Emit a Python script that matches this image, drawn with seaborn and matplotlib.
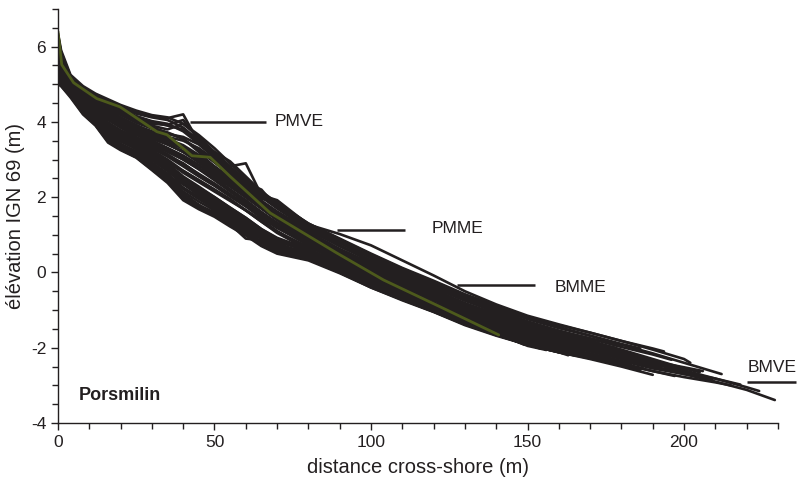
import matplotlib
matplotlib.use("Agg")
import matplotlib.pyplot as plt
import pandas as pd
import seaborn as sns

# cross-shore distances (m) shared by the surveyed profiles
GRID = [0, 1, 4, 8, 12, 16, 20, 25, 30, 35, 40, 45, 50, 55, 60, 65, 70,
        80, 90, 100, 110, 120, 130, 140, 150, 160, 170, 180, 190, 200, 210, 220]

# elevations (m IGN 69) read along GRID, one list per survey
p01 = [6.3, 5.85, 5.2, 4.9, 4.72, 4.55, 4.42, 4.25, 4.15, 4.1, 4.2, 3.45, 3.2, 2.95, 2.55, 2.15,
       1.85, 1.3, 0.9, 0.5, 0.12, -0.22, -0.58, -0.88, -1.18, -1.4, -1.6, -1.82, -2.02]
p02 = [6.1, 5.7, 5.15, 4.8, 4.6, 4.4, 4.25, 4.05, 3.9, 3.8, 3.95, 3.6, 3.2, 2.82, 2.9, 2.05,
       1.92, 1.27, 1.02, 0.72, 0.32, -0.08, -0.5, -0.85, -1.15, -1.38, -1.6, -1.82, -2.05, -2.3]
p03 = [6.2, 5.75, 5.18, 4.85, 4.65, 4.5, 4.35, 4.15, 4.0, 3.9, 3.8, 3.45, 3.1, 2.75, 2.4, 2.05,
       1.75, 1.2, 0.78, 0.38, 0.0, -0.38, -0.72, -1.05, -1.35, -1.6, -1.85, -2.1, -2.35, -2.6,
       -2.82, -3.05]
p04 = [5.6, 5.3, 4.95, 4.6, 4.35, 4.1, 3.9, 3.7, 3.5, 3.3, 3.1, 2.85, 2.6, 2.3, 2.0, 1.7,
       1.4, 0.9, 0.5, 0.1, -0.25, -0.6, -0.95, -1.28, -1.58, -1.82, -2.05, -2.28, -2.5, -2.7,
       -2.9, -3.12]
p05 = [5.0, 4.95, 4.65, 4.2, 3.9, 3.45, 3.25, 3.05, 2.72, 2.38, 1.92, 1.68, 1.48, 1.22, 0.98,
       0.7, 0.5, 0.32, -0.02, -0.4, -0.74, -1.05, -1.4, -1.68, -1.92, -2.12, -2.3, -2.5]
p06 = [5.8, 5.5, 5.0, 4.62, 4.38, 4.15, 3.95, 3.75, 3.55, 3.4, 3.2, 2.95, 2.65, 2.35, 2.05,
       1.75, 1.45, 0.95, 0.52, 0.12, -0.25, -0.62, -0.98, -1.3, -1.58, -1.8, -1.98, -2.2,
       -2.42, -2.65]
p07 = [6.0, 5.6, 5.08, 4.72, 4.5, 4.3, 4.1, 3.9, 3.75, 3.6, 3.5, 3.3, 3.0, 2.65, 2.3, 1.95,
       1.9, 1.2, 0.7, 0.3, -0.08, -0.45, -0.82, -1.15, -1.45, -1.72, -2.0]
p08 = [5.4, 5.2, 4.88, 4.5, 4.22, 3.95, 3.75, 3.5, 3.3, 3.1, 2.9, 2.6, 2.35, 2.05, 1.8, 1.5,
       1.2, 0.72, 0.3, -0.1, -0.45, -0.82, -1.18, -1.5, -1.8, -2.02]
p09 = [6.25, 5.8, 5.15, 4.78, 4.55, 4.35, 4.2, 4.0, 3.85, 3.7, 3.55, 3.2, 2.8, 2.45, 2.1,
       1.75, 1.4, 0.85, 0.38, -0.05, -0.45, -0.85, -1.25, -1.6, -1.95]
p10 = [5.2, 5.05, 4.8, 4.42, 4.12, 3.85, 3.6, 3.4, 3.15, 2.9, 2.7, 2.45, 2.2, 1.95, 1.65,
       1.4, 1.1, 0.62, 0.2, -0.2, -0.55, -0.92, -1.28, -1.62]
p11 = [6.3, 5.8, 5.22, 4.92, 4.7, 4.52, 4.38, 4.22, 4.12, 4.05, 3.85, 3.5, 3.15, 2.8, 2.45,
       2.1, 1.8, 1.25, 0.82, 0.42, 0.05, -0.32, -0.68, -1.0, -1.3, -1.55, -1.8, -2.1]
p12 = [5.7, 5.4, 4.92, 4.55, 4.3, 4.05, 3.85, 3.6, 3.4, 3.2, 3.0, 2.75, 2.5, 2.2, 1.9, 1.6,
       1.3, 0.82, 0.4, 0.0, -0.35, -0.7, -1.05, -1.38, -1.65, -1.88, -2.05, -2.22, -2.4]
p13 = [5.95, 5.55, 5.05, 4.68, 4.45, 4.25, 4.05, 3.85, 3.65, 3.5, 3.35, 3.1, 2.8, 2.5, 2.2,
       1.9, 1.6, 1.08, 0.62, 0.22, -0.15, -0.52, -0.88, -1.2, -1.48, -1.7, -1.9, -2.12]
p14 = [5.1, 5.0, 4.75, 4.3, 4.0, 3.62, 3.38, 3.15, 2.85, 2.6, 2.25, 2.0, 1.75, 1.5, 1.25,
       0.98, 0.75, 0.45, 0.08, -0.3, -0.66, -1.0, -1.35, -1.65, -1.92, -2.12]
p15 = [6.05, 5.65, 5.1, 4.75, 4.55, 4.35, 4.18, 3.98, 3.82, 3.68, 3.6, 3.4, 3.05, 2.7, 2.35,
       2.0, 1.7, 1.15, 0.72, 0.32, -0.05, -0.4, -0.75, -1.05, -1.32, -1.55, -1.75]
p16 = [5.5, 5.25, 4.9, 4.48, 4.2, 3.9, 3.65, 3.45, 3.2, 2.95, 2.65, 2.4, 2.15, 1.9, 1.65,
       1.35, 1.05, 0.6, 0.2, -0.18, -0.52, -0.88, -1.22, -1.52, -1.75]
p17 = [5.85, 5.5, 5.02, 4.65, 4.42, 4.2, 4.0, 3.8, 3.6, 3.45, 3.3, 3.05, 2.75, 2.45, 2.15,
       1.85, 1.5, 1.0, 0.55, 0.15, -0.2, -0.58, -0.95]
p18 = [5.75, 5.45, 4.95, 4.58, 4.35, 4.1, 3.9, 3.68, 3.48, 3.3, 3.1, 2.85, 2.55, 2.28, 2.0,
       1.7, 1.4, 0.9, 0.45, 0.05, -0.3, -0.66, -1.02, -1.35, -1.62, -1.82, -1.98]
p19 = [5.3, 5.12, 4.85, 4.45, 4.15, 3.85, 3.6, 3.38, 3.12, 2.9, 2.55, 2.28, 2.0, 1.72, 1.45,
       1.15, 0.9, 0.55, 0.2, -0.18, -0.52, -0.86, -1.2, -1.52, -1.8, -2.0, -2.18, -2.38]
p20 = [6.15, 5.7, 5.12, 4.82, 4.62, 4.45, 4.3, 4.1, 3.95, 3.92, 4.05, 3.55, 3.15, 2.8, 2.45,
       2.15, 1.78, 1.25, 0.8, 0.4, 0.02, -0.35, -0.7, -1.02, -1.32, -1.58, -1.82, -2.05,
       -2.3, -2.55]
p21 = [5.25, 5.08, 4.78, 4.32, 3.98, 3.68, 3.4, 3.18, 2.9, 2.55, 2.35, 2.05, 1.8, 1.55, 1.3,
       1.05, 0.8, 0.42, 0.05, -0.32, -0.66, -1.0, -1.33, -1.62]
p22 = [5.9, 5.55, 4.98, 4.6, 4.38, 4.18, 3.98, 3.78, 3.58, 3.4, 3.22, 2.98, 2.68, 2.38, 2.08,
       1.8, 1.5, 0.98, 0.55, 0.15, -0.22, -0.58, -0.92, -1.25, -1.52, -1.75, -1.95, -2.15, -2.35]
p23 = [6.35, 5.9, 5.25, 4.95, 4.75, 4.6, 4.45, 4.3, 4.18, 4.12, 3.95, 3.65, 3.3, 2.9, 2.5,
       2.1, 1.82, 1.3, 0.88, 0.48, 0.1, -0.25, -0.6, -0.92, -1.2, -1.45, -1.68, -1.92, -2.15,
       -2.4, -2.65]
p24 = [5.05, 4.99, 4.72, 4.28, 3.98, 3.55, 3.3, 3.1, 2.8, 2.5, 2.1, 1.8, 1.55, 1.3, 1.05,
       0.72, 0.55, 0.36, 0.02, -0.36, -0.7, -1.02, -1.36, -1.66, -1.92, -2.12, -2.28]
p25 = [5.15, 5.02, 4.7, 4.25, 3.92, 3.5, 3.28, 3.08, 2.75, 2.42, 2.0, 1.72, 1.52, 1.28, 0.9,
       0.85, 0.52, 0.35, 0.0, -0.4, -0.72, -1.04, -1.38, -1.66, -1.9]
p26 = [5.35, 5.15, 4.8, 4.38, 4.08, 3.75, 3.5, 3.28, 3.0, 2.7, 2.35, 2.1, 1.85, 1.58, 1.3,
       1.02, 0.75, 0.45, 0.1, -0.3, -0.64, -0.98, -1.32, -1.6, -1.85, -2.05, -2.22, -2.42,
       -2.62, -2.78, -2.92]
p27 = [5.3, 5.1, 4.76, 4.35, 4.06, 3.68, 3.48, 3.3, 2.98, 2.7, 2.35, 2.08, 1.82, 1.55, 1.3,
       1.0, 0.75, 0.52, 0.14, -0.25, -0.6, -0.92, -1.28, -1.58, -1.84, -2.04, -2.2, -2.42]
p28 = [5.45, 5.25, 4.86, 4.45, 4.15, 3.82, 3.6, 3.4, 3.12, 2.85, 2.5, 2.25, 2.0, 1.72, 1.45,
       1.15, 0.92, 0.62, 0.25, -0.14, -0.48, -0.82, -1.15, -1.45, -1.72, -1.95]
p29 = [5.85, 5.5, 5.0, 4.64, 4.4, 4.12, 3.92, 3.72, 3.5, 3.3, 3.05, 2.78, 2.5, 2.2, 1.92,
       1.6, 1.32, 0.9, 0.5, 0.1, -0.26, -0.62, -0.96, -1.26, -1.52, -1.76, -1.94, -2.14,
       -2.36, -2.52]
p30 = [6.0, 5.62, 5.08, 4.74, 4.52, 4.3, 4.12, 3.92, 3.72, 3.55, 3.38, 3.12, 2.82, 2.52, 2.2,
       1.85, 1.55, 1.05, 0.62, 0.25, -0.12, -0.48, -0.82, -1.1, -1.4]
p31 = [5.65, 5.35, 4.92, 4.52, 4.25, 3.98, 3.75, 3.55, 3.3, 3.08, 2.82, 2.55, 2.3, 2.02, 1.75,
       1.45, 1.18, 0.75, 0.35, -0.04, -0.4, -0.74, -1.08, -1.4, -1.68, -1.9, -2.08, -2.26, -2.46]
p32 = [5.95, 5.6, 5.04, 4.68, 4.45, 4.22, 4.02, 3.82, 3.62, 3.42, 3.2, 2.92, 2.62, 2.32, 2.02,
       1.72, 1.42, 0.95, 0.55, 0.18, -0.18, -0.52, -0.86, -1.16, -1.42, -1.65, -1.85]
p33 = [5.35, 5.18, 4.82, 4.4, 4.1, 3.74, 3.52, 3.32, 3.05, 2.76, 2.42, 2.15, 1.9, 1.62, 1.38,
       1.08, 0.84, 0.55, 0.18, -0.2, -0.55, -0.9, -1.24, -1.58]
p34 = [6.2, 5.78, 5.2, 4.88, 4.66, 4.48, 4.32, 4.15, 4.02, 3.95, 3.75, 3.42, 3.1, 2.75, 2.38,
       2.2, 1.72, 1.22, 0.8, 0.42, 0.05, -0.3, -0.64, -0.96, -1.24, -1.48, -1.68, -1.9]
p35 = [5.6, 5.32, 4.9, 4.5, 4.22, 3.92, 3.7, 3.5, 3.25, 3.0, 2.7, 2.45, 2.2, 1.92, 1.65,
       1.35, 1.08, 0.68, 0.3, -0.08, -0.44, -0.8, -1.12, -1.42, -1.7, -1.92, -2.1, -2.3,
       -2.5, -2.66, -2.82]
p36 = [5.15, 5.0, 4.72, 4.3, 4.0, 3.6, 3.4, 3.2, 2.9, 2.62, 2.22, 1.95, 1.7, 1.45, 1.2,
       0.92, 0.68, 0.45, 0.08, -0.3, -0.64, -0.98, -1.32, -1.62, -1.9]
p37 = [6.1, 5.68, 5.12, 4.8, 4.58, 4.4, 4.22, 4.02, 3.85, 3.72, 3.55, 3.25, 2.92, 2.6, 2.25,
       1.9, 1.62, 1.12, 0.7, 0.32, -0.04, -0.4, -0.74, -1.04, -1.32, -1.56, -1.76, -1.98, -2.18]
p38 = [5.8, 5.45, 4.96, 4.58, 4.34, 4.08, 3.86, 3.66, 3.45, 3.24, 3.0, 2.74, 2.45, 2.15, 1.85,
       1.55, 1.25, 0.82, 0.42, 0.04, -0.32, -0.68, -1.0]
p39 = [5.4, 5.2, 4.84, 4.42, 4.12, 3.78, 3.55, 3.35, 3.08, 2.8, 2.45, 2.2, 1.95, 1.68, 1.4,
       1.1, 0.85, 0.58, 0.2, -0.18, -0.52, -0.86, -1.2, -1.5, -1.76, -1.98, -2.15, -2.35,
       -2.55, -2.7]
p40 = [6.05, 5.6, 5.06, 4.7, 4.48, 4.26, 4.06, 3.86, 3.68, 3.5, 3.3, 3.02, 2.72, 2.42, 2.1,
       1.78, 1.48, 1.0, 0.58, 0.22, -0.14, -0.5, -0.84, -1.12, -1.4, -1.64]
p41 = [5.1, 4.98, 4.7, 4.25, 3.95, 3.52, 3.3, 3.12, 2.8, 2.48, 2.05, 1.78, 1.6, 1.35, 1.1,
       0.82, 0.62, 0.4, 0.04, -0.34, -0.68, -1.0, -1.34, -1.62, -1.88, -2.08, -2.25, -2.45]
p42 = [5.2, 5.05, 4.74, 4.32, 4.02, 3.64, 3.42, 3.22, 2.92, 2.62, 2.25, 1.98, 1.72, 1.48, 1.22,
       0.95, 0.72, 0.48, 0.12, -0.26, -0.6, -0.95, -1.3, -1.6, -1.86]
p43 = [5.25, 5.1, 4.8, 4.4, 4.1, 3.72, 3.52, 3.3, 3.02, 2.75, 2.38, 2.12, 1.88, 1.62, 1.35,
       1.08, 0.82, 0.58, 0.2, -0.18, -0.54, -0.88, -1.22, -1.54, -1.82, -2.02, -2.2]
p44 = [5.05, 4.96, 4.68, 4.22, 3.92, 3.48, 3.28, 3.06, 2.74, 2.42, 1.98, 1.74, 1.55, 1.3, 1.02,
       0.78, 0.58, 0.38, 0.0, -0.38, -0.72, -1.04, -1.38, -1.66, -1.92, -2.12]
p45 = [5.4, 5.2, 4.84, 4.42, 4.12, 3.78, 3.56, 3.36, 3.08, 2.82, 2.46, 2.2, 1.95, 1.68, 1.4,
       1.12, 0.88, 0.6, 0.22, -0.16, -0.5, -0.84, -1.18, -1.48]
p46 = [5.2, 5.02, 4.72, 4.28, 3.96, 3.58, 3.36, 3.16, 2.86, 2.55, 2.15, 1.88, 1.65, 1.4, 1.15,
       0.88, 0.66, 0.42, 0.06, -0.32, -0.66, -0.98, -1.32, -1.62, -1.88, -2.08, -2.24, -2.44,
       -2.62]
p47 = [5.7, 5.4, 4.95, 4.55, 4.3, 3.98, 3.78, 3.58, 3.36, 3.14, 2.88, 2.62, 2.36, 2.08, 1.8,
       1.5, 1.22, 0.8, 0.4, 0.0, -0.36, -0.72, -1.06, -1.38, -1.66, -1.88]
p48 = [5.9, 5.52, 5.0, 4.62, 4.4, 4.1, 3.9, 3.7, 3.46, 3.26, 3.02, 2.76, 2.48, 2.18, 1.9,
       1.58, 1.3, 0.86, 0.46, 0.08, -0.28, -0.64, -0.98, -1.3]

# last surveyed point of each profile
END_X = [193.6, 202, 224, 229, 190, 209, 176, 170, 156, 149, 188, 198, 185,
         165, 180, 160, 141, 172, 183, 205, 145, 195, 212, 176, 162, 215,
         187, 168, 206, 158, 192, 178, 146, 186, 218, 154, 196, 135, 203, 166,
         186, 157, 174, 163, 144, 197, 167, 148]
END_Z = [-2.1, -2.4, -3.15, -3.39, -2.72, -2.85, -2.15, -2.22, -2.06, -1.92, -2.35, -2.55, -2.22,
         -2.2, -1.95, -1.95, -1.3, -2.03, -2.45, -2.65, -1.75, -2.45, -2.7, -2.38, -2.08, -3.0,
         -2.55, -2.1, -2.62, -1.6, -2.5, -2.0, -1.8, -2.02, -2.98, -2.02, -2.32, -1.18, -2.72,
         -1.78, -2.6, -2.0, -2.3, -2.2, -1.62, -2.75, -2.05, -1.55]

# mean profile
MEAN_X = [0, 1.2, 5, 12.4, 19.8, 27.3, 31.6, 34.8, 42.8, 48.6, 55, 67.8, 78.4, 89, 104, 122, 140.8]
MEAN_Z = [6.4, 5.52, 5.04, 4.62, 4.4, 3.98, 3.74, 3.66, 3.1, 3.06, 2.55, 1.58, 1.05, 0.52, -0.2,
          -0.91, -1.66]

# tide levels
LEVEL_NAMES = ["PMVE", "PMME", "BMME", "BMVE"]
LEVEL_Z = [4.0, 1.13, -0.33, -2.91]

PROFILES = [p01, p02, p03, p04, p05, p06, p07, p08, p09, p10, p11, p12, p13,
            p14, p15, p16, p17, p18, p19, p20, p21, p22, p23, p24, p25, p26,
            p27, p28, p29, p30, p31, p32, p33, p34, p35, p36, p37, p38, p39, p40,
            p41, p42, p43, p44, p45, p46, p47, p48]

rows = []
for i, prof in enumerate(PROFILES):
    xs = GRID[:len(prof)] + [END_X[i]]
    zs = prof + [END_Z[i]]
    for x, z in zip(xs, zs):
        rows.append({"survey": i, "distance": x, "z": z})
df = pd.DataFrame(rows)
mean_df = pd.DataFrame({"distance": MEAN_X, "z": MEAN_Z})

INK = "#231f20"
OLIVE = "#4d5a1c"

sns.set_style("ticks")
plt.rcParams["font.family"] = ["Liberation Sans", "DejaVu Sans"]
plt.rcParams["axes.unicode_minus"] = False
plt.rcParams["text.color"] = INK
plt.rcParams["axes.labelcolor"] = INK
plt.rcParams["xtick.color"] = INK
plt.rcParams["ytick.color"] = INK

fig = plt.figure(figsize=(8.02, 4.88), dpi=100)
ax = fig.add_axes([0.0723, 0.1332, 0.8977, 0.8484])

sns.lineplot(data=df, x="distance", y="z", units="survey", estimator=None,
             sort=False, color=INK, lw=1.9, ax=ax, legend=False)
sns.lineplot(data=mean_df, x="distance", y="z", sort=False, color=OLIVE, lw=2.0, ax=ax)

ax.set_xlim(0, 230)
ax.set_ylim(-4, 7)
ax.set_xticks([0, 50, 100, 150, 200])
ax.set_xticks(range(0, 231, 10), minor=True)
ax.set_yticks([-4, -2, 0, 2, 4, 6])
ax.set_yticks([v / 2 for v in range(-8, 15)], minor=True)
ax.tick_params(which="both", direction="out", width=1.0, labelsize=12.5)
ax.tick_params(which="major", length=5)
ax.tick_params(which="minor", length=4)
for s in ["left", "bottom"]:
    ax.spines[s].set_color(INK)
    ax.spines[s].set_linewidth(1.0)
sns.despine(ax=ax)

ax.set_xlabel("distance cross-shore (m)", fontsize=14.5, labelpad=6)
ax.set_ylabel("élévation IGN 69 (m)", fontsize=14.5, labelpad=4)

# tide level markers
spans = [(42.2, 66.3), (89, 111), (127.4, 152.4), (220.1, 235.8)]
text_at = [(69.3, 4.0), (119.5, 1.16), (158.8, -0.4), (220.3, -2.52)]
for name, z, (x0, x1), (tx, ty) in zip(LEVEL_NAMES, LEVEL_Z, spans, text_at):
    ax.plot([x0, x1], [z, z], color=INK, lw=1.8, clip_on=False, solid_capstyle="butt")
    ax.text(tx, ty, name, fontsize=12.5, va="center", ha="left", color=INK, clip_on=False)

ax.text(6.7, -3.26, "Porsmilin", fontsize=13, fontweight="bold", va="center", ha="left")

fig.savefig("out.png", dpi=100)
